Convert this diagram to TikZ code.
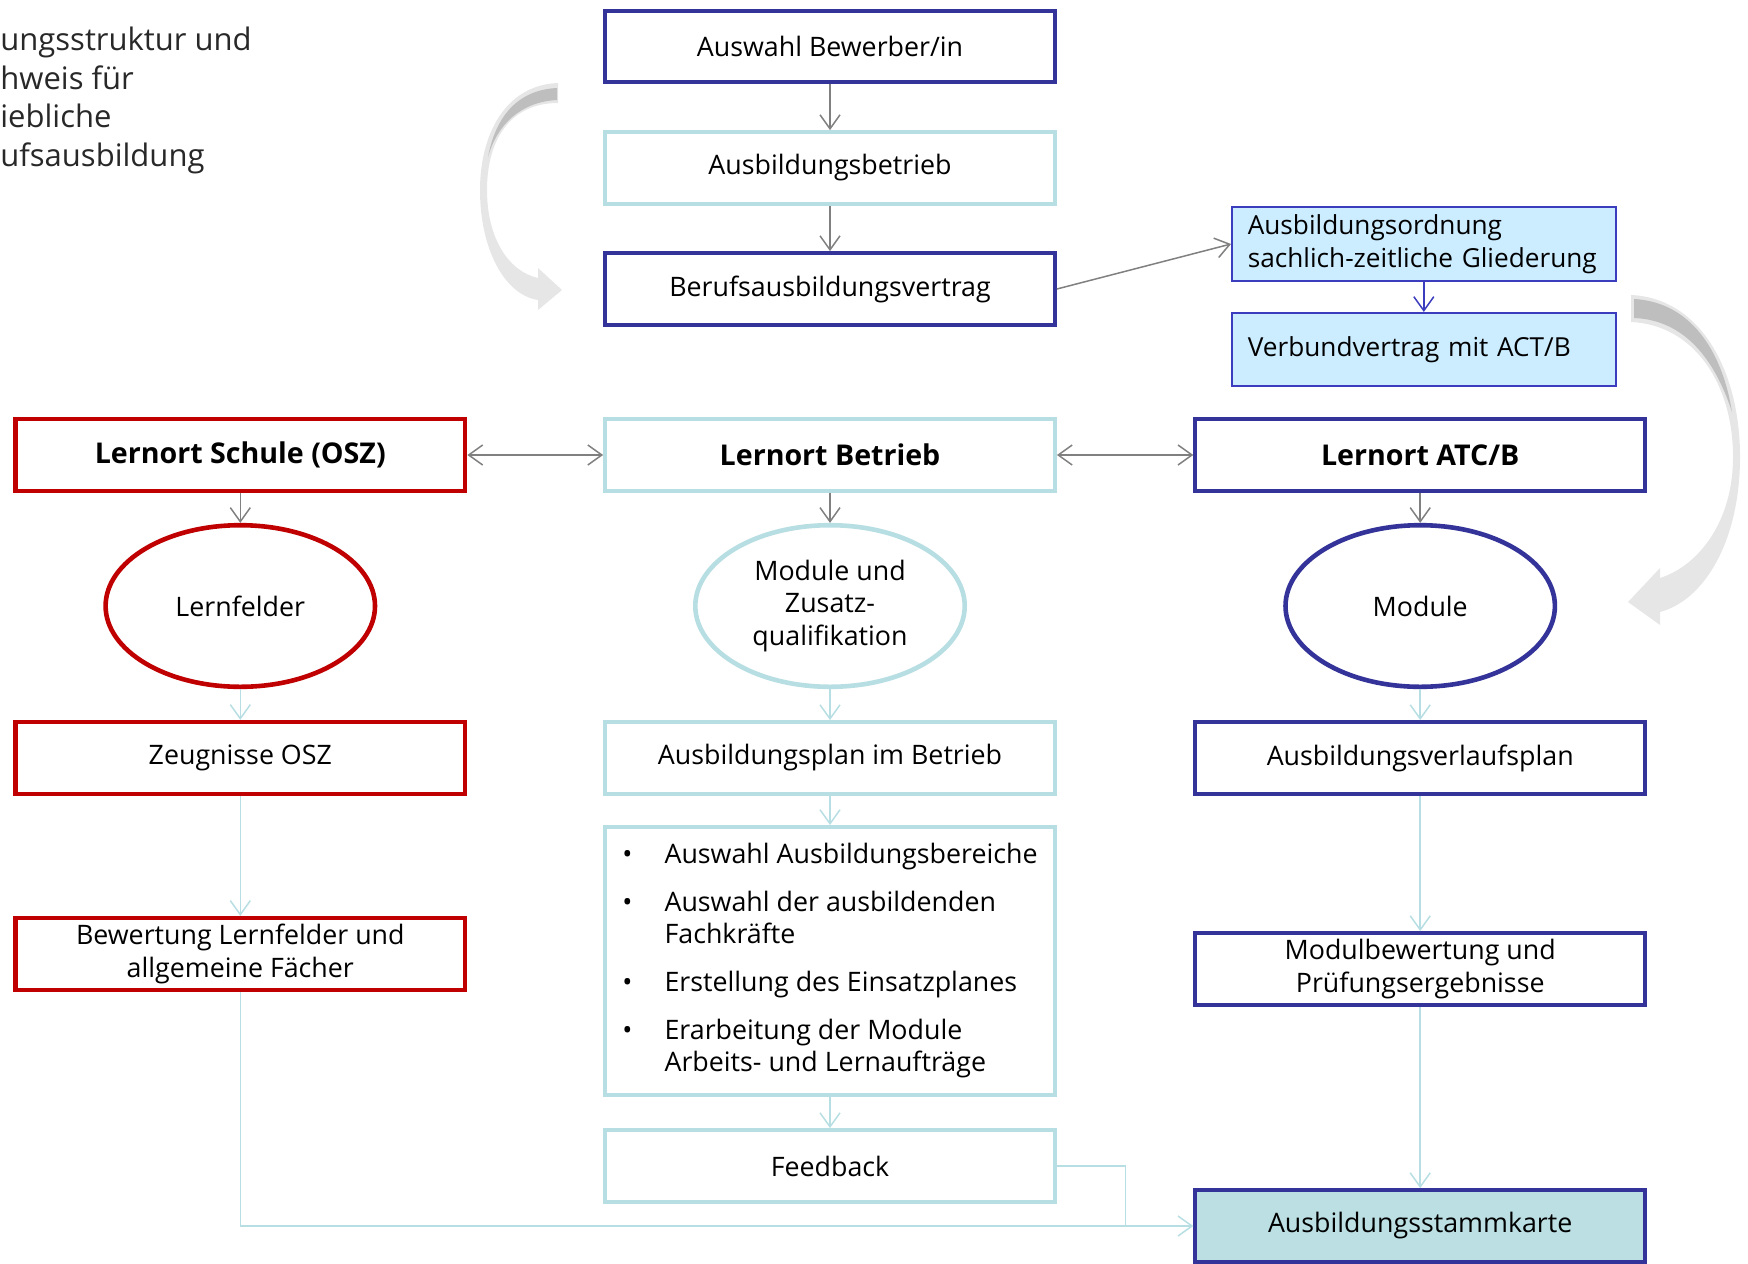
\documentclass[tikz,border=0pt]{standalone}
\usepackage{fontspec}
\setmainfont{Open Sans}
\usetikzlibrary{arrows.meta,calc,shapes.geometric}
\definecolor{navy}{RGB}{51,51,153}
\definecolor{tealc}{RGB}{183,222,226}
\definecolor{redc}{RGB}{192,0,0}
\definecolor{lblue}{RGB}{204,236,255}
\definecolor{obord}{RGB}{60,60,190}
\definecolor{stammfill}{RGB}{187,223,227}
\definecolor{arrgray}{RGB}{128,128,128}
\definecolor{titlegray}{RGB}{40,40,40}
\definecolor{curvelight}{RGB}{230,230,230}
\definecolor{curvedark}{RGB}{190,190,190}
\begin{document}
\begin{tikzpicture}[x=0.5pt,y=-0.5pt,
  every node/.style={font=\fontsize{13.4}{16.2}\selectfont, inner sep=0pt},
  box/.style={rectangle, minimum width=224.9pt, minimum height=35.9pt, line width=2pt, fill=white, align=center},
  navybox/.style={box, draw=navy},
  tealbox/.style={box, draw=tealc},
  redbox/.style={box, draw=redc, line width=2.2pt},
  headbox/.style={font=\fontsize{14.3}{16.2}\selectfont\bfseries},
  infobox/.style={rectangle, minimum width=192pt, minimum height=36.75pt, line width=0.8pt, draw=obord, fill=lblue, align=left, text width=176pt, font=\fontsize{13.1}{16.2}\selectfont},
  ell/.style={ellipse, minimum width=134.7pt, minimum height=80.8pt, line width=2.3pt, fill=white, align=center},
  garrow/.style={draw=arrgray, line width=0.75pt, -{Straight Barb[length=7pt,width=10pt]}},
  gdarrow/.style={draw=arrgray, line width=0.75pt, {Straight Barb[length=7pt,width=10pt]}-{Straight Barb[length=7pt,width=10pt]}},
  barrow/.style={draw=obord, line width=0.75pt, -{Straight Barb[length=7pt,width=10pt]}},
  tarrow/.style={draw=tealc, line width=0.75pt, -{Straight Barb[length=7pt,width=10pt]}},
  tline/.style={draw=tealc, line width=0.75pt},
]
\useasboundingbox (0,0) rectangle (1748,1263);

% decorative curved arrows
\fill[curvelight] (558,83) .. controls (505,85) and (480,135) .. (480,190)
  .. controls (480,250) and (505,295) .. (538,300) -- (538,310) -- (562,290) -- (538,268) -- (538,278)
  .. controls (510,272) and (487,240) .. (487,190) .. controls (487,140) and (510,103) .. (558,103) -- cycle;
\fill[curvedark] (557,88) .. controls (515,90) and (495,120) .. (488,157)
  .. controls (497,125) and (520,102) .. (557,100) -- cycle;
\fill[curvelight] (1631,295) .. controls (1700,298) and (1740,370) .. (1740,457)
  .. controls (1740,540) and (1705,600) .. (1660,612) -- (1660,625) -- (1628,602) -- (1660,568) -- (1660,578)
  .. controls (1700,565) and (1733,520) .. (1733,457) .. controls (1733,385) and (1695,325) .. (1631,322) -- cycle;
\fill[curvedark] (1634,299) .. controls (1690,302) and (1722,350) .. (1732,412)
  .. controls (1715,360) and (1685,320) .. (1634,318) -- cycle;

% title
\node[anchor=north west, align=left, text=titlegray, font=\fontsize{15.5}{19.25}\selectfont] (title) at (0,27)
  {ungsstruktur und\\hweis für\\iebliche\\ufsausbildung};

% top column
\node[navybox] (auswahl) at (830,46.5) {Auswahl Bewerber/in};
\node[tealbox] (abetrieb) at (830,168) {Ausbildungsbetrieb};
\node[navybox] (vertrag) at (830,289) {Berufsausbildungsvertrag};
\node[infobox] (ordnung) at (1423.8,244) {Ausbildungsordnung\\sachlich-zeitliche~Gliederung};
\node[infobox] (verbund) at (1423.8,349.5) {Verbundvertrag mit ACT/B};

% Lernorte
\node[redbox, headbox] (schule) at (240.3,455) {Lernort Schule (OSZ)};
\node[tealbox, headbox] (lbetrieb) at (830,455) {Lernort Betrieb};
\node[navybox, headbox] (atc) at (1420.2,455) {Lernort ATC/B};

% ellipses
\node[ell, draw=redc] (lernfelder) at (240.3,606) {Lernfelder};
\node[ell, draw=tealc] (zusatz) at (830,606) {Module und\\Zusatz-\\qualifikation};
\node[ell, draw=navy] (module) at (1420.2,606) {Module};

% third row
\node[redbox] (zeugnisse) at (240.3,758) {Zeugnisse OSZ};
\node[tealbox] (plan) at (830,758) {Ausbildungsplan im Betrieb};
\node[navybox] (verlauf) at (1420.2,758) {Ausbildungsverlaufsplan};

\node[redbox] (bewertung) at (240.3,954) {Bewertung Lernfelder und\\allgemeine Fächer};
\node[tealbox, minimum height=134pt] (bullets) at (830,961) {%
  \begin{tabular}{@{}l@{\hspace{16pt}}l@{}}
  \textbullet & Auswahl Ausbildungsbereiche\\[7.8pt]
  \textbullet & Auswahl der ausbildenden\\
              & Fachkräfte\\[7.8pt]
  \textbullet & Erstellung des Einsatzplanes\\[7.8pt]
  \textbullet & Erarbeitung der Module\\
              & Arbeits- und Lernaufträge
  \end{tabular}};
\node[navybox] (modbew) at (1420.2,969) {Modulbewertung und\\Prüfungsergebnisse};
\node[tealbox] (feedback) at (830,1166) {Feedback};
\node[navybox, fill=stammfill] (stamm) at (1420.2,1226) {Ausbildungsstammkarte};

% connectors
\draw[garrow] (auswahl) -- (abetrieb);
\draw[garrow] (abetrieb) -- (vertrag);
\draw[garrow] (vertrag.east) -- (ordnung.west);
\draw[barrow] (ordnung) -- (verbund);
\draw[gdarrow] (schule) -- (lbetrieb);
\draw[gdarrow] (lbetrieb) -- (atc);
\draw[garrow] (schule) -- (lernfelder);
\draw[garrow] (lbetrieb) -- (zusatz);
\draw[garrow] (atc) -- (module);
\draw[tarrow] (lernfelder) -- (zeugnisse);
\draw[tarrow] (zusatz) -- (plan);
\draw[tarrow] (module) -- (verlauf);
\draw[tarrow] (zeugnisse) -- (bewertung);
\draw[tarrow] (plan) -- (bullets);
\draw[tarrow] (bullets) -- (feedback);
\draw[tarrow] (verlauf) -- (modbew);
\draw[tarrow] (modbew) -- (stamm);
\draw[tarrow] (bewertung.south) |- (stamm.west);
\coordinate (fbjoin) at ($(stamm.west)+(-68,0)$);
\draw[tline] (feedback.east) -| (fbjoin);
\end{tikzpicture}
\end{document}
